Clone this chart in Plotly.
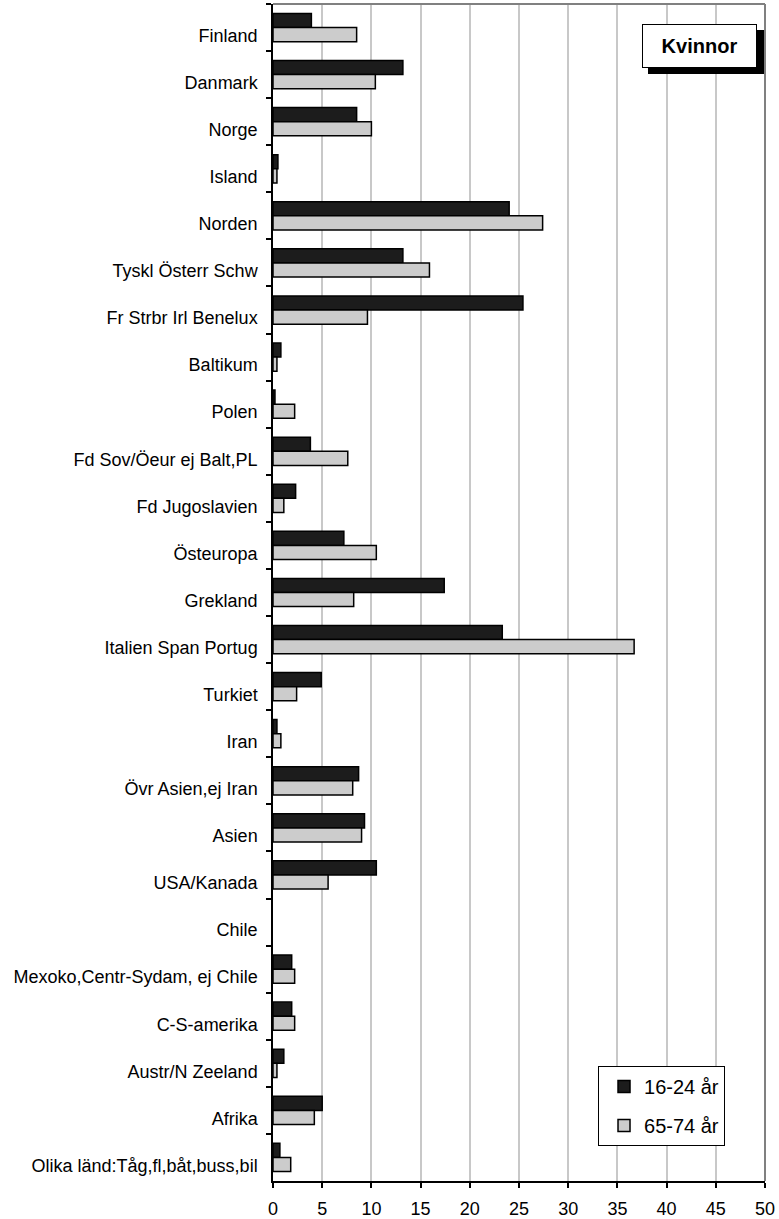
import plotly.graph_objects as go

CATEGORIES = [
    "Finland", "Danmark", "Norge", "Island", "Norden",
    "Tyskl Österr Schw", "Fr Strbr Irl Benelux", "Baltikum", "Polen",
    "Fd Sov/Öeur ej Balt,PL", "Fd Jugoslavien", "Östeuropa", "Grekland",
    "Italien Span Portug", "Turkiet", "Iran", "Övr Asien,ej Iran", "Asien",
    "USA/Kanada", "Chile", "Mexoko,Centr-Sydam, ej Chile", "C-S-amerika",
    "Austr/N Zeeland", "Afrika", "Olika länd:Tåg,fl,båt,buss,bil",
]

AGE_16_24 = [3.9, 13.2, 8.5, 0.5, 24.0, 13.2, 25.4, 0.8, 0.2, 3.8, 2.3, 7.2,
             17.4, 23.3, 4.9, 0.4, 8.7, 9.3, 10.5, 0.0, 1.9, 1.9, 1.1, 5.0, 0.7]
AGE_65_74 = [8.5, 10.4, 10.0, 0.4, 27.4, 15.9, 9.6, 0.4, 2.2, 7.6, 1.1, 10.5,
             8.2, 36.7, 2.4, 0.8, 8.1, 9.0, 5.6, 0.0, 2.2, 2.2, 0.4, 4.2, 1.8]

SERIES_NAMES = ["16-24 år", "65-74 år"]
X_TICKS = list(range(0, 51, 5))

FONT = "Liberation Sans, Arial, sans-serif"


def outline(values):
    # no outline on empty bars, so a zero doesn't leave a sliver at the axis
    return [0 if v == 0 else 1.5 for v in values]


fig = go.Figure()
fig.add_trace(go.Bar(
    y=CATEGORIES, x=AGE_16_24, orientation="h", name=SERIES_NAMES[0],
    legendgroup="a",
    marker=dict(color="#1c1c1c", line=dict(color="black", width=outline(AGE_16_24))),
))
fig.add_trace(go.Bar(
    y=CATEGORIES, x=AGE_65_74, orientation="h", name=SERIES_NAMES[1],
    legendgroup="b",
    marker=dict(color="#cccccc", line=dict(color="black", width=outline(AGE_65_74))),
))

fig.update_layout(
    width=779, height=1219,
    margin=dict(l=273, r=14, t=4, b=38),
    paper_bgcolor="white", plot_bgcolor="white",
    barmode="group", bargap=0.4, bargroupgap=0,
    font=dict(family=FONT, color="black", size=18),
    legend=dict(
        x=0.6606, y=0.0297, xanchor="left", yanchor="bottom",
        bordercolor="black", borderwidth=1, bgcolor="white",
        font=dict(size=20), traceorder="grouped", tracegroupgap=10,
        indentation=5,
    ),
    shapes=[
        # plot frame, grey on top and right
        dict(type="line", xref="paper", yref="paper", x0=0, x1=1, y0=1, y1=1,
             line=dict(color="#808080", width=2)),
        dict(type="line", xref="paper", yref="paper", x0=1, x1=1, y0=0, y1=1,
             line=dict(color="#808080", width=2)),
        # shadow behind the title box
        dict(type="rect", xref="paper", yref="paper", x0=0.7622, x1=0.998,
             y0=0.9405, y1=0.9779, fillcolor="black", line=dict(width=0)),
    ],
    annotations=[dict(
        text="<b>Kvinnor</b>", xref="paper", yref="paper", x=0.867, y=0.9643,
        xanchor="center", yanchor="middle", showarrow=False,
        width=113, height=42, bgcolor="white", bordercolor="black",
        borderwidth=1, borderpad=0, font=dict(size=20, color="black"),
    )],
)

fig.update_xaxes(
    range=[0, 50], tickvals=X_TICKS, showgrid=True, gridcolor="#c8c8c8",
    gridwidth=2, zeroline=False, showline=True, linecolor="black", linewidth=1.5,
    ticks="outside", ticklen=5, tickwidth=1.5, tickcolor="black",
    ticklabelstandoff=6, tickfont=dict(size=18), automargin=False,
)
fig.update_yaxes(
    autorange="reversed", showgrid=False, showline=True, linecolor="black",
    linewidth=1.5, ticks="outside", ticklen=5, tickwidth=1.5, tickcolor="black",
    tickson="boundaries", ticklabelstandoff=10, ticklabelshift=-8,
    tickfont=dict(size=18), automargin=False,
)

# page has a default 8px body margin; drop it so the figure sits at 0,0
fig.write_html(
    "out.html",
    config={"displayModeBar": False},
    post_script="document.body.style.margin='0';",
)
